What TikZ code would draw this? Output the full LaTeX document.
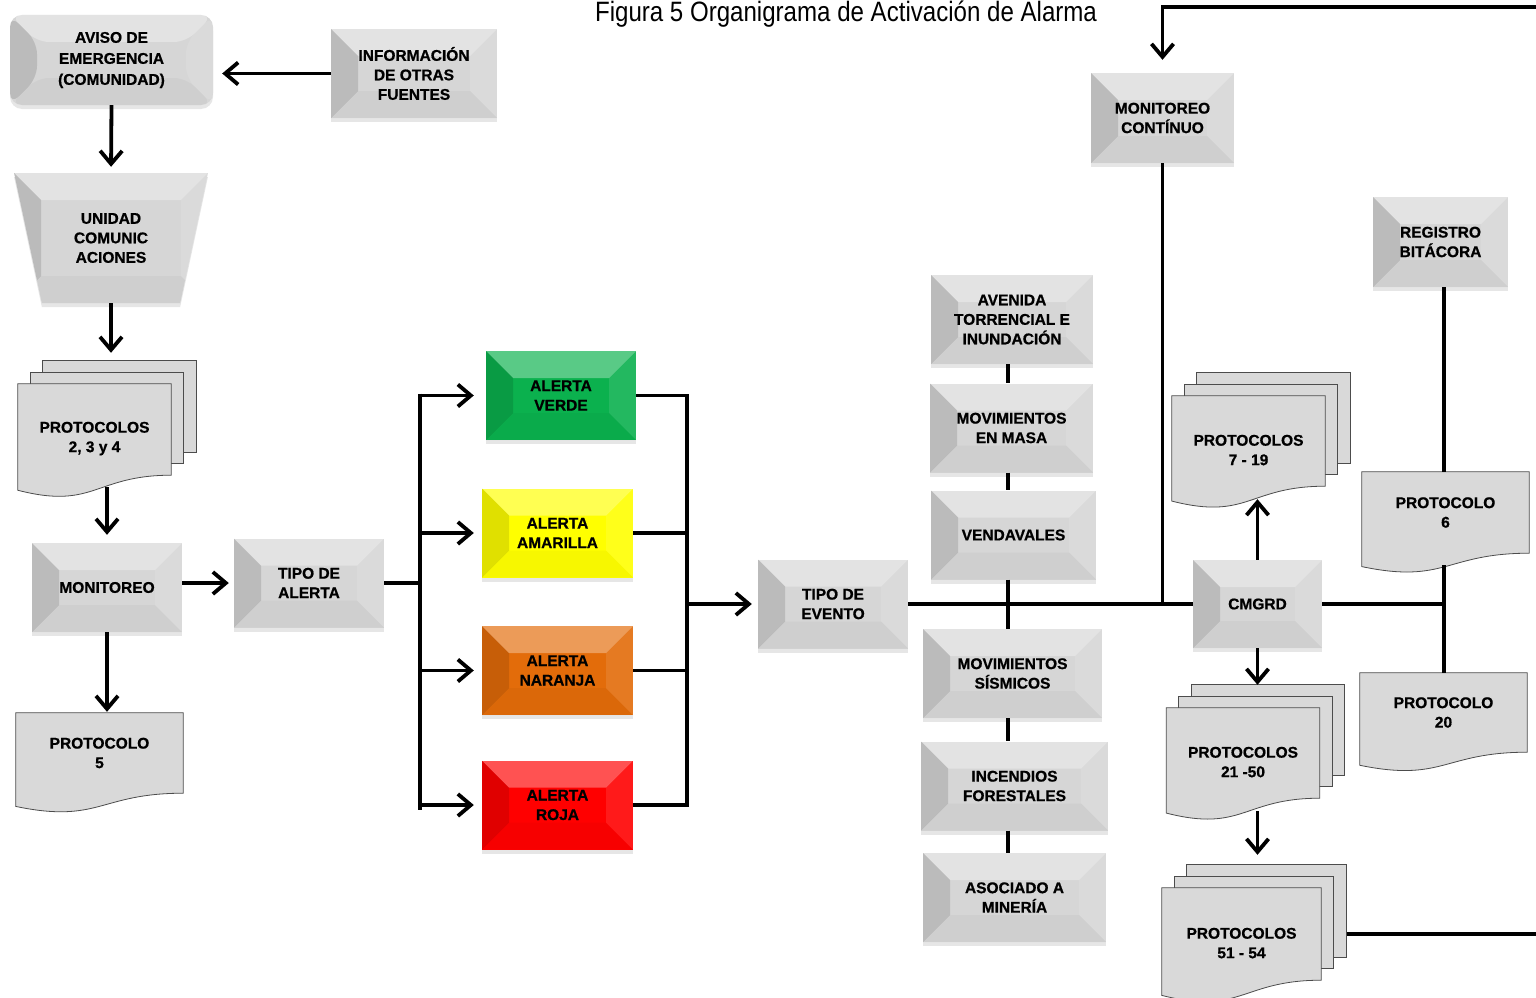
\documentclass[tikz,border=0pt]{standalone}
\usepackage{fontspec}
\setmainfont{Liberation Sans}
\newfontfamily\titlefamily[FakeStretch=0.86]{Liberation Sans}
\newfontfamily\boxfamily[FakeBold=0.8]{Liberation Sans Bold}
\usetikzlibrary{positioning,calc,arrows.meta,shapes.geometric,shadows,backgrounds}

\definecolor{boxgray}{HTML}{D6D6D6}
\definecolor{docgray}{HTML}{D9D9D9}
\definecolor{alverde}{HTML}{0BB14E}
\definecolor{alamarilla}{HTML}{FFFF00}
\definecolor{alnaranja}{HTML}{E36C0A}
\definecolor{alroja}{HTML}{FF0000}

\newcommand{\boxfont}{\boxfamily\fontsize{15.5}{19.5}\selectfont}
\newcommand{\lowstrut}{\rule{0pt}{29pt}}
\newcommand{\bvl}{27pt}
% bevel faces inside a box
\newcommand{\bevelfaces}{%
  \coordinate (bnw) at (path picture bounding box.north west);
  \coordinate (bne) at (path picture bounding box.north east);
  \coordinate (bsw) at (path picture bounding box.south west);
  \coordinate (bse) at (path picture bounding box.south east);
  \fill[white, opacity=.32] (bnw) -- (bne) -- ([shift={(-\bvl,-\bvl)}]bne) -- ([shift={(\bvl,-\bvl)}]bnw) -- cycle;
  \fill[black, opacity=.12] (bnw) -- ([shift={(\bvl,-\bvl)}]bnw) -- ([shift={(\bvl,\bvl)}]bsw) -- (bsw) -- cycle;
  \fill[white, opacity=.1] (bne) -- ([shift={(-\bvl,-\bvl)}]bne) -- ([shift={(-\bvl,\bvl)}]bse) -- (bse) -- cycle;
  \fill[black, opacity=.03] (bsw) -- ([shift={(\bvl,\bvl)}]bsw) -- ([shift={(-\bvl,\bvl)}]bse) -- (bse) -- cycle;
}
% document page with wavy bottom
\newcommand{\docpage}[1]{%
  \filldraw[docline] let \p1=(#1.north west), \p2=(#1.south east), \n1={\x2-\x1}, \n2={\y1-\y2} in
    (\p1) -- (\x2,\y1) -- (\p2)
    .. controls (\x1+0.5*\n1,\y2) and (\x1+0.5*\n1,\y2-0.381*\n2) .. (\x1,\y2-0.1646*\n2) -- cycle;
}
% stack of three pages
\newcommand{\docstack}[1]{%
  \foreach \dx/\dy in {25pt/23pt, 12.5pt/11.5pt}
    \filldraw[docline] ([shift={(\dx,\dy)}]#1.north west) rectangle ([shift={(\dx,\dy)}]#1.south east);
  \docpage{#1}
}

\tikzset{
  bevelbox/.style  = {rectangle, fill=#1, align=center, font=\boxfont,
                      minimum width=150pt, minimum height=89pt,
                      path picture={\bevelfaces},
                      drop shadow={shadow xshift=0pt, shadow yshift=-4pt, opacity=.2}},
  bevelbox/.default = boxgray,
  docnode/.style   = {rectangle, align=center, font=\boxfont, inner sep=0pt},
  docline/.style   = {fill=docgray, draw=black!70, line width=0.8pt},
  conn/.style      = {draw, line width=3.8pt},
  arr/.style       = {conn, -{Straight Barb[length=13pt,width=22pt]}},
  title/.style     = {font=\titlefamily\fontsize{28}{30}\selectfont}
}

\begin{document}
\begin{tikzpicture}[x=1pt, y=-1pt]
  \useasboundingbox (0,0) rectangle (1536,998);

  \node [title, anchor=base] (title) at (846,22) {Figura 5 Organigrama de Activación de Alarma};

  % left column
  \node [bevelbox, rounded corners=12pt, minimum width=203pt, minimum height=90pt, font=\boxfamily\fontsize{15.5}{21}\selectfont]
        (aviso) at (111.5,60) {AVISO DE\\EMERGENCIA\\(COMUNIDAD)};
  \node [bevelbox, minimum width=166pt] (info) at (414,73.5) {INFORMACIÓN\\DE OTRAS\\FUENTES};
  \node [bevelbox, trapezium, trapezium stretches, trapezium angle=74,
         shape border rotate=180, minimum width=194pt, minimum height=130pt]
        (unidad) at (111,238) {UNIDAD\\COMUNIC\\ACIONES};
  \node [docnode, minimum width=153pt, minimum height=91pt] (p234) at (94.5,429.5) {\lowstrut PROTOCOLOS\\2, 3 y 4};
  \node [bevelbox] (mon) at (107,587.5) {MONITOREO};
  \node [docnode, minimum width=167pt, minimum height=80pt] (p5) at (99.5,753) {PROTOCOLO\\5};
  \node [bevelbox] (tipoal) at (309,583) {TIPO DE\\ALERTA};

  % alerts
  \node [bevelbox=alverde]    (verde) at (561,395.5) {ALERTA\\VERDE};
  \node [bevelbox=alamarilla, minimum width=151pt] (amar) at (557.5,533) {ALERTA\\AMARILLA};
  \node [bevelbox=alnaranja,  minimum width=151pt] (nar)  at (557.5,670.5) {ALERTA\\NARANJA};
  \node [bevelbox=alroja,     minimum width=151pt] (roja) at (557.5,805) {ALERTA\\ROJA};

  \node [bevelbox] (tipoev) at (833,604) {TIPO DE\\EVENTO};

  % event types
  \node [bevelbox, minimum width=162pt] (aven) at (1012,319.5) {AVENIDA\\TORRENCIAL E\\INUNDACIÓN};
  \node [bevelbox, minimum width=163pt] (masa) at (1011.5,428) {MOVIMIENTOS\\EN MASA};
  \node [bevelbox, minimum width=165pt] (vend) at (1013.5,535) {VENDAVALES};
  \node [bevelbox, minimum width=179pt] (sism) at (1012.5,673.5) {MOVIMIENTOS\\SÍSMICOS};
  \node [bevelbox, minimum width=187pt] (inc)  at (1014.5,786) {INCENDIOS\\FORESTALES};
  \node [bevelbox, minimum width=183pt] (min)  at (1014.5,897.5) {ASOCIADO A\\MINERÍA};

  % right part
  \node [bevelbox, minimum width=143pt, minimum height=90pt] (moncont) at (1162.5,118) {MONITOREO\\CONTÍNUO};
  \node [bevelbox, minimum width=129pt, minimum height=88pt] (cmgrd) at (1257.5,604) {CMGRD};
  \node [bevelbox, minimum width=135pt, minimum height=90pt] (registro) at (1440.5,242) {REGISTRO\\BITÁCORA};
  \node [docnode, minimum width=153pt, minimum height=90pt] (p719) at (1248.5,441) {\lowstrut PROTOCOLOS\\7 - 19};
  \node [docnode, minimum width=167pt, minimum height=81pt] (p6) at (1445.5,512.5) {PROTOCOLO\\6};
  \node [docnode, minimum width=167pt, minimum height=79pt] (p20) at (1443.5,712.5) {PROTOCOLO\\20};
  \node [docnode, minimum width=153pt, minimum height=90pt] (p2150) at (1243,753) {\lowstrut PROTOCOLOS\\21 -50};
  \node [docnode, minimum width=159pt, minimum height=92pt] (p5154) at (1241.5,934) {\lowstrut PROTOCOLOS\\51 - 54};

  \begin{scope}[on background layer]
    \docstack{p234}
    \docpage{p5}
    \docstack{p719}
    \docpage{p6}
    \docpage{p20}
    \docstack{p2150}
    \docstack{p5154}
  \end{scope}

  \coordinate (busl) at (420,577);
  \coordinate (busr) at (687,603);
  \coordinate (evx) at (1008,602);
  \coordinate (rbus) at (1444,601);
  \coordinate (loopne) at (1545,7);

  % left column arrows
  \draw [arr, shorten >=9pt] (info.west) -- (info.west -| aviso.east);
  \draw [arr, shorten >=6pt] (aviso.south) -- (unidad.north);
  \draw [arr] (unidad.south) -- ($(unidad.south |- p234.north)+(0,-31)$);
  \draw [arr, shorten >=8pt] ($(mon.north |- p234.south)+(0,12)$) -- (mon.north);
  \draw [arr] (mon.south) -- ($(mon.south |- p5.north)+(0,-1)$);
  \draw [arr, shorten >=5pt] (mon.east |- tipoal.west) -- (tipoal.west);

  % alert buses
  \draw [conn] (tipoal.east) -- (tipoal.east -| busl);
  \draw [conn] ([yshift=2pt]busl |- verde.west) -- ([yshift=-5pt]busl |- roja.west);
  \draw [arr, shorten >=12pt] (busl |- verde.west) -- (verde.west);
  \draw [arr, shorten >=8pt] (busl |- amar.west) -- (amar.west);
  \draw [arr, shorten >=8pt] (busl |- nar.west) -- (nar.west);
  \draw [arr, shorten >=8pt] (busl |- roja.west) -- (roja.west);
  \draw [conn] (verde.east) -- (verde.east -| busr) -- (roja.east -| busr) -- (roja.east);
  \draw [conn] (amar.east) -- (amar.east -| busr);
  \draw [conn] (nar.east) -- (nar.east -| busr);
  \draw [arr, shorten >=6pt] (busr |- tipoev.west) -- (tipoev.west);

  % events
  \draw [conn] (tipoev.east) -- (cmgrd.west);
  \draw [conn] (aven.south -| evx) -- (masa.north -| evx);
  \draw [conn] (masa.south -| evx) -- (vend.north -| evx);
  \draw [conn] (vend.south -| evx) -- (sism.north -| evx);
  \draw [conn] (sism.south -| evx) -- (inc.north -| evx);
  \draw [conn] (inc.south -| evx) -- (min.north -| evx);
  \draw [conn] (moncont.south) -- (moncont.south |- tipoev.east);

  % CMGRD and protocols
  \draw [arr] (cmgrd.north) -- ($(cmgrd.north |- p719.south)+(0,13)$);
  \draw [arr] (cmgrd.south) -- ($(cmgrd.south |- p2150.north)+(0,-23)$);
  \draw [arr] ($(cmgrd.south |- p2150.south)+(0,13)$) -- ($(cmgrd.south |- p5154.north)+(0,-33)$);
  \draw [conn] (cmgrd.east) -- (cmgrd.east -| rbus);
  \draw [conn] (registro.south -| rbus) -- (p6.north -| rbus);
  \draw [conn] ($(p6.south -| rbus)+(0,12)$) -- (p20.north -| rbus);

  % loop back to monitoring
  \draw [arr, shorten >=13pt] ($(p5154.east)+(25.5,0)$) -- (p5154.east -| loopne)
        -- (loopne) -- (loopne -| moncont.north) -- (moncont.north);
\end{tikzpicture}
\end{document}
